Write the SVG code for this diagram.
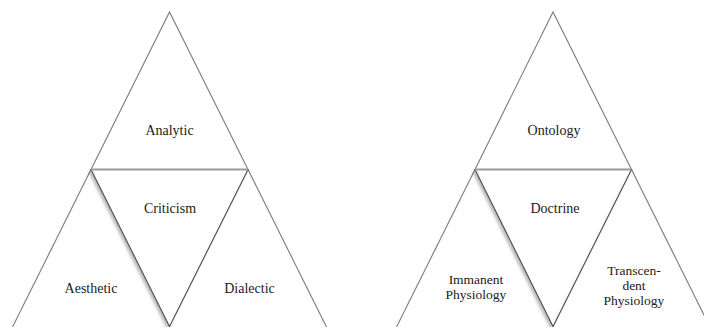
<svg xmlns="http://www.w3.org/2000/svg" width="704" height="327" viewBox="0 0 704 327">
<defs>
<style>
.outer{fill:none;stroke:#7a7a7a;stroke-width:1.1}
.mid{fill:#fff;stroke:#4a4a4a;stroke-width:1.1;filter:url(#sh)}
.bar{stroke:#9a9a9a;stroke-width:2;fill:none}
.lbl{font-family:"Liberation Serif","Times New Roman",serif;font-size:14px;fill:#1a1a1a;text-anchor:middle}
.sm{font-size:13.5px}
</style>
<filter id="sh" x="-20%" y="-20%" width="140%" height="140%">
<feDropShadow dx="-2" dy="2" stdDeviation="1.5" flood-color="#000" flood-opacity="0.28"/>
</filter>
</defs>
<rect width="704" height="327" fill="#fff"/>
<g id="left-figure">
<g id="analytic"><path class="outer" d="M91,169.5 L169.5,12 L248,169.5"/><text class="lbl" x="169.5" y="135">Analytic</text></g>
<g id="aesthetic"><path class="outer" d="M91,169.5 L12.5,327"/><text class="lbl" x="91" y="293">Aesthetic</text></g>
<g id="dialectic"><path class="outer" d="M248,169.5 L326.5,327"/><text class="lbl" x="249.5" y="293">Dialectic</text></g>
<g id="criticism"><path class="mid" d="M91,169.5 L248,169.5 L169.5,326.5 Z"/><line class="bar" x1="91" y1="169.5" x2="248" y2="169.5"/><text class="lbl" x="170" y="213">Criticism</text></g>
</g>
<g id="right-figure">
<g id="ontology"><path class="outer" d="M475,169.5 L553,12 L631.5,169.5"/><text class="lbl" x="554" y="135">Ontology</text></g>
<g id="immanent"><path class="outer" d="M475,169.5 L396.5,327"/><text class="lbl sm" x="476" y="284">Immanent</text><text class="lbl sm" x="476" y="299">Physiology</text></g>
<g id="transcendent"><path class="outer" d="M631.5,169.5 L710,327"/><text class="lbl sm" x="634" y="275">Transcen-</text><text class="lbl sm" x="634" y="290">dent</text><text class="lbl sm" x="634" y="305">Physiology</text></g>
<g id="doctrine"><path class="mid" d="M475,169.5 L631.5,169.5 L553,326.5 Z"/><line class="bar" x1="475" y1="169.5" x2="631.5" y2="169.5"/><text class="lbl" x="555" y="213">Doctrine</text></g>
</g>
<g id="connectors"/>
</svg>
